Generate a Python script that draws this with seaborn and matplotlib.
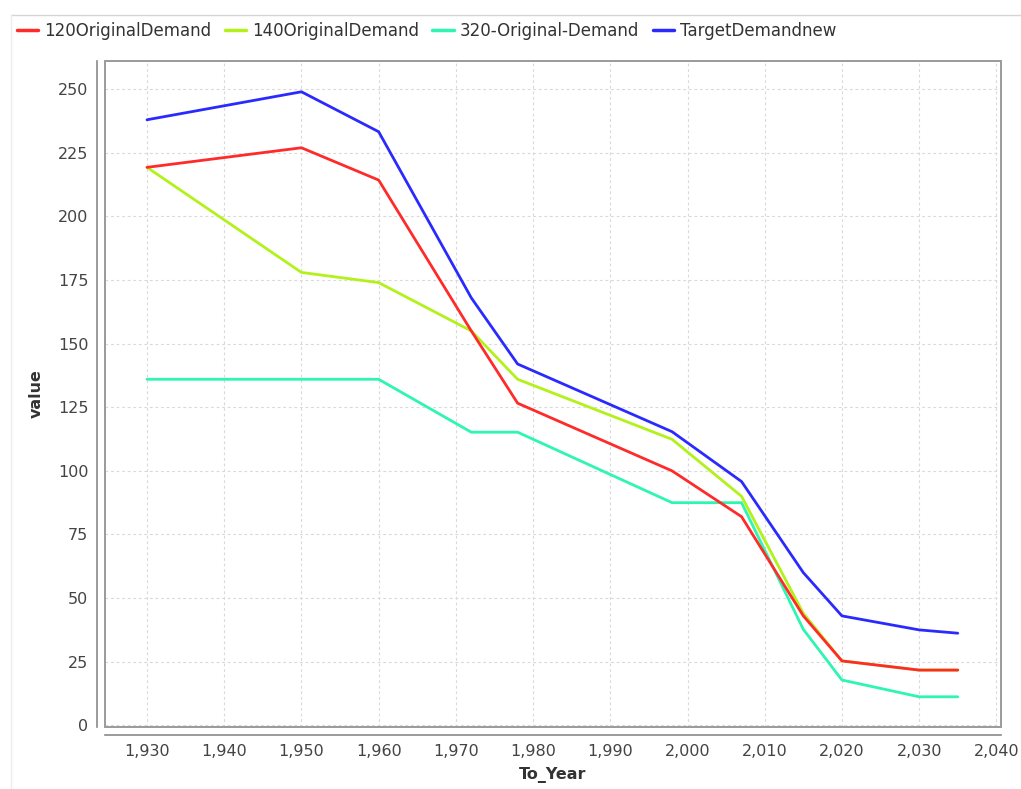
import matplotlib
matplotlib.use("Agg")
from matplotlib import pyplot as plt
from matplotlib.patches import Rectangle
from matplotlib.lines import Line2D
import matplotlib.ticker as mticker
import numpy as np
import pandas as pd
import seaborn as sns

# values
years = [1930, 1950, 1960, 1972, 1978, 1998, 2007, 2015, 2020, 2030, 2035]
demand_120 = [219.3, 227, 214.3, 155, 126.6, 100, 82, 43, 25.3, 21.7, 21.7]
demand_140 = [219.3, 178, 174, 155, 136, 112.4, 90, 44, 25.3, 21.7, 21.7]
demand_320 = [136, 136, 136, 115.2, 115.2, 87.5, 87.5, 37.7, 17.8, 11.2, 11.2]
target_new = [238, 249, 233.3, 168, 142, 115.4, 95.8, 60, 43, 37.5, 36.2]

series_names = ["120OriginalDemand", "140OriginalDemand", "320-Original-Demand", "TargetDemandnew"]
series_colors = ["#ff2a2a", "#b2f21a", "#2ef5b0", "#2a2aff"]

x_ticks = list(range(1930, 2041, 10))
y_ticks = list(range(0, 251, 25))

#long form table for seaborn
df = pd.concat([
    pd.DataFrame({"To_Year": years, "value": vals, "series": name})
    for name, vals in zip(series_names, [demand_120, demand_140, demand_320, target_new])
], ignore_index=True)

sns.set_style("white")
plt.rcParams['font.family'] = ['DejaVu Sans']

W, H = 1021, 789
fig = plt.figure(figsize=(W / 100, H / 100), dpi=100)
ax = fig.add_axes([105 / W, 1 - 727 / H, (1001 - 105) / W, (727 - 61) / H])

# draw red last so it sits on top, like the original
draw_order = list(reversed(series_names))
palette = dict(zip(series_names, series_colors))
for name in draw_order:
    sns.lineplot(data=df[df["series"] == name], x="To_Year", y="value",
                 color=palette[name], linewidth=2.0, ax=ax, legend=False)

ax.set_xlim(1924.56, 2040.6)
ax.set_ylim(-0.67, 261.1)
ax.set_xticks(x_ticks)
ax.set_yticks(y_ticks)
ax.xaxis.set_major_formatter(mticker.FuncFormatter(lambda v, p: f"{int(v):,}"))

ax.grid(True, color="#d9d9d9", linestyle=(0, (2.5, 2.5)), linewidth=0.8)
ax.set_axisbelow(True)

# plot-area box plus axis lines pushed outward
for side in ["top", "right"]:
    ax.spines[side].set_visible(False)
for side in ["left", "bottom"]:
    ax.spines[side].set_position(("outward", 6))
    ax.spines[side].set_color("#8a8a8a")
    ax.spines[side].set_linewidth(1.2)
ax.add_patch(Rectangle((0, 0), 1, 1, transform=ax.transAxes, fill=False,
                       edgecolor="#9a9a9a", linewidth=1.4, clip_on=False, zorder=5))

ax.tick_params(axis="both", direction="out", length=3, width=1, color="#8a8a8a",
               labelsize=11.5, labelcolor="#444444", pad=3)

ax.set_xlabel("To_Year", fontsize=11.5, fontweight="bold", color="#333333", labelpad=6)
ax.set_ylabel("value", fontsize=11.5, fontweight="bold", color="#333333", labelpad=10)

# outer frame lines (top and left)
fig.add_artist(Line2D([11 / W, 1], [1 - 15 / H, 1 - 15 / H], transform=fig.transFigure,
                      color="#d5d5d5", linewidth=1))
fig.add_artist(Line2D([11 / W, 11 / W], [0, 1 - 15 / H], transform=fig.transFigure,
                      color="#ececec", linewidth=1))

handles = [Line2D([], [], color=c, linewidth=2.5) for c in series_colors]
fig.legend(handles, series_names, loc="center left", bbox_to_anchor=(10 / W, 1 - 31 / H),
           ncol=4, frameon=False, fontsize=12, handlelength=1.3, handletextpad=0.35,
           columnspacing=0.8, labelcolor="#333333", borderaxespad=0)

fig.savefig("out.png", dpi=100)
